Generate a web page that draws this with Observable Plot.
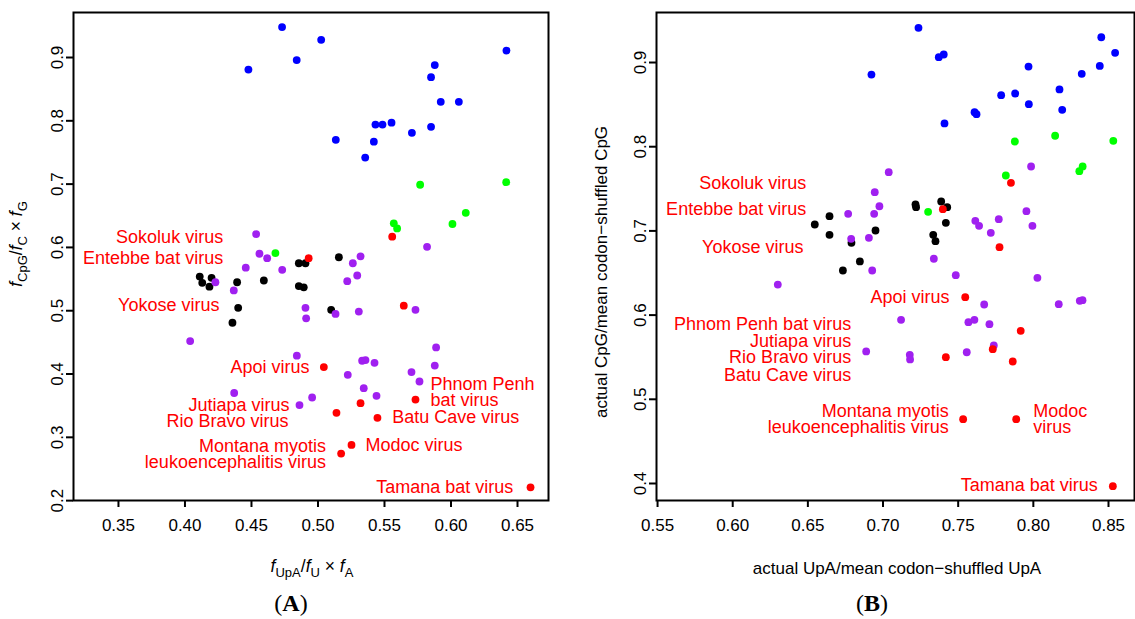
<!DOCTYPE html>
<html><head><meta charset="utf-8">
<script src="https://cdn.jsdelivr.net/npm/d3@7"></script>
<script src="https://cdn.jsdelivr.net/npm/@observablehq/plot@0.6"></script>
<style>
body{margin:0;background:#fff;}
#wrap{position:relative;width:1135px;height:619px;overflow:hidden;background:#fff;}
#wrap svg{position:absolute;top:0;}
</style></head><body><div id="wrap"></div>
<script>
// ---------- Panel A data ----------
const aBlueX = [0.4477,0.473,0.484,0.5024,0.6417,0.5878,0.585,0.5923,0.6059,0.5432,0.5485,0.5553,0.5134,0.542,0.5355,0.5706,0.585];
const aBlueY = [0.881,0.948,0.896,0.928,0.911,0.888,0.869,0.830,0.830,0.794,0.794,0.797,0.770,0.767,0.742,0.781,0.7905];
const aGreenX = [0.468,0.5768,0.6415,0.6111,0.6011,0.557,0.5595];
const aGreenY = [0.591,0.699,0.703,0.6547,0.637,0.638,0.630];
const aBlackX = [0.4111,0.413,0.420,0.4184,0.4392,0.4593,0.4856,0.4906,0.4856,0.4893,0.44,0.4357,0.5157,0.5099];
const aBlackY = [0.554,0.544,0.552,0.538,0.545,0.5477,0.575,0.575,0.539,0.537,0.5046,0.481,0.5845,0.5014];
const aPurpleX = [0.4535,0.456,0.4618,0.582,0.532,0.4229,0.4457,0.4367,0.4731,0.4906,0.4911,0.4039,0.4841,0.437,0.4861,0.5262,0.5295,0.522,0.5132,0.5307,0.5733,0.5888,0.5878,0.5332,0.5357,0.5425,0.5224,0.5703,0.5763,0.5344,0.544,0.4956];
const aPurpleY = [0.621,0.590,0.583,0.601,0.586,0.545,0.568,0.532,0.5646,0.5046,0.488,0.452,0.429,0.370,0.351,0.575,0.5556,0.5467,0.495,0.4987,0.5014,0.442,0.4134,0.421,0.422,0.4177,0.3987,0.403,0.3882,0.3776,0.3656,0.3629];
const aRedX = [0.493,0.5558,0.5645,0.5044,0.5733,0.532,0.5139,0.5447,0.5252,0.5174,0.6598];
const aRedY = [0.583,0.617,0.508,0.411,0.3597,0.354,0.3387,0.3308,0.288,0.2744,0.221];
const aLabelText = ["Sokoluk virus","Entebbe bat virus","Yokose virus","Apoi virus","Jutiapa virus","Rio Bravo virus","Montana myotis\nleukoencephalitis virus","Modoc virus","Phnom Penh\nbat virus","Batu Cave virus","Tamana bat virus"];
const aLabelX = [0.4287,0.4287,0.4259,0.4936,0.4786,0.4778,0.506,0.5357,0.5846,0.5558,0.6468];
const aLabelY = [0.6156,0.5825,0.5082,0.4103,0.3491,0.3239,0.2725,0.2859,0.3705,0.3302,0.2202];
const aLabelSide = ["end","end","end","end","end","end","end","start","start","start","end"];
const aXTicks = [0.35,0.40,0.45,0.50,0.55,0.60,0.65];
const aYTicks = [0.2,0.3,0.4,0.5,0.6,0.7,0.8,0.9];

// ---------- Panel B data ----------
const bBlueX = [0.6923,0.7236,0.7371,0.7404,0.8452,0.8544,0.8442,0.8322,0.7968,0.7786,0.7879,0.797,0.8174,0.8192,0.7609,0.7622,0.7409];
const bBlueY = [0.8857,0.9412,0.9063,0.9095,0.930,0.9115,0.896,0.8866,0.8952,0.8612,0.8632,0.8505,0.868,0.8438,0.841,0.8386,0.8276];
const bGreenX = [0.7877,0.8145,0.8532,0.8328,0.8306,0.7817,0.73];
const bGreenY = [0.8062,0.813,0.807,0.7765,0.7709,0.7658,0.7227];
const bBlackX = [0.6644,0.6546,0.6644,0.695,0.679,0.6846,0.6733,0.7216,0.722,0.7387,0.7427,0.7418,0.7334,0.7349];
const bBlackY = [0.7175,0.7076,0.6954,0.7005,0.6859,0.6637,0.653,0.7314,0.7282,0.7349,0.7282,0.7096,0.6954,0.6878];
const bPurpleX = [0.7038,0.6945,0.6976,0.6941,0.6768,0.6906,0.6788,0.6928,0.63,0.6888,0.7985,0.7614,0.7639,0.777,0.7717,0.7954,0.7994,0.7338,0.7484,0.8027,0.7673,0.8169,0.8309,0.8327,0.712,0.7568,0.7608,0.7708,0.7178,0.718,0.7557,0.7737];
const bPurpleY = [0.7697,0.746,0.7293,0.7203,0.7203,0.6918,0.6906,0.653,0.6363,0.5568,0.7765,0.712,0.706,0.7139,0.6977,0.7234,0.706,0.6669,0.6474,0.6443,0.6126,0.613,0.617,0.6177,0.5944,0.5916,0.5944,0.5892,0.5528,0.5473,0.5559,0.5639];
const bRedX = [0.7851,0.7398,0.7775,0.7547,0.7916,0.7418,0.773,0.7863,0.7533,0.7886,0.8529];
const bRedY = [0.7571,0.7258,0.6807,0.6213,0.5813,0.55,0.5595,0.5449,0.4764,0.4764,0.3968];
const bLabelText = ["Sokoluk virus","Entebbe bat virus","Yokose virus","Apoi virus","Phnom Penh bat virus","Jutiapa virus","Rio Bravo virus","Batu Cave virus","Montana myotis\nleukoencephalitis virus","Modoc\nvirus","Tamana bat virus"];
const bLabelX = [0.6489,0.6489,0.6471,0.7442,0.6788,0.6788,0.6788,0.6788,0.7438,0.7999,0.8429];
const bLabelY = [0.7559,0.7251,0.6799,0.6201,0.5888,0.5686,0.5488,0.5283,0.4751,0.4758,0.3968];
const bLabelSide = ["end","end","end","end","end","end","end","end","end","start","end"];
const bXTicks = [0.55,0.60,0.65,0.70,0.75,0.80,0.85];
const bYTicks = [0.4,0.5,0.6,0.7,0.8,0.9];

// ---------- helpers ----------
const FONT = "'Liberation Sans', Arial, Helvetica, sans-serif";
const COLORS = {blue:"#0000FF", green:"#00FF00", black:"#000000", purple:"#A020F0", red:"#FF0000"};
const zip = (xs, ys) => xs.map((x, i) => ({x, y: ys[i]}));
const labelRows = (t, xs, ys, side) => t.map((text, i) => ({text, x: xs[i], y: ys[i], side: side[i]}));

function panel({groups, labels, xDomain, yDomain, xTicks, yTicks, width, marginLeft, marginRight}) {
  const dotMarks = ["blue","green","black","purple","red"].map(k =>
    Plot.dot(groups[k], {x: "x", y: "y", r: 3.9, fill: COLORS[k], stroke: "none"}));
  return Plot.plot({
    width, height: 619,
    marginLeft, marginRight, marginTop: 12, marginBottom: 119,
    style: {fontFamily: FONT, fontSize: "17px", color: "#000", background: "#fff", overflow: "visible"},
    x: {domain: xDomain},
    y: {domain: yDomain},
    marks: [
      Plot.axisX({ticks: xTicks, tickFormat: d3.format(".2f"), tickSize: 7, tickPadding: 11, strokeWidth: 2, fontSize: 17, label: null}),
      Plot.axisY({ticks: yTicks, tickFormat: d3.format(".1f"), tickSize: 7, tickPadding: 4, tickRotate: -90, strokeWidth: 2, fontSize: 17, label: null}),
      ...dotMarks,
      Plot.text(labels.filter(d => d.side === "end"), {x: "x", y: "y", text: "text", textAnchor: "end", fill: "#FF0000", fontSize: 18, lineHeight: 0.88}),
      Plot.text(labels.filter(d => d.side === "start"), {x: "x", y: "y", text: "text", textAnchor: "start", fill: "#FF0000", fontSize: 18, lineHeight: 0.88}),
      Plot.frame({stroke: "#000", strokeWidth: 2})
    ]
  });
}

function mathText(svg, {x, y, rotate = 0, parts, size = 17, family = FONT}) {
  const t = d3.select(svg).append("text")
    .attr("transform", `translate(${x},${y}) rotate(${rotate})`)
    .attr("text-anchor", "middle")
    .attr("font-family", family)
    .attr("font-size", size)
    .attr("fill", "#000");
  let shift = 0;
  for (const p of parts) {
    const s = t.append("tspan").text(p.t);
    const target = p.sub ? Math.round(size * 0.3) : 0;
    if (target !== shift) { s.attr("dy", target - shift); shift = target; }
    if (p.sub) s.attr("font-size", Math.round(size * 0.72));
    if (p.it) s.attr("font-style", "italic");
    if (p.bold) s.attr("font-weight", "bold");
  }
}

const wrap = document.getElementById("wrap");

// ---------- Panel A ----------
const plotA = panel({
  groups: {blue: zip(aBlueX, aBlueY), green: zip(aGreenX, aGreenY), black: zip(aBlackX, aBlackY), purple: zip(aPurpleX, aPurpleY), red: zip(aRedX, aRedY)},
  labels: labelRows(aLabelText, aLabelX, aLabelY, aLabelSide),
  xDomain: [0.3162, 0.6733], yDomain: [0.2002, 0.9711],
  xTicks: aXTicks, yTicks: aYTicks,
  width: 567, marginLeft: 73, marginRight: 19
});
plotA.style.left = "0px";
wrap.appendChild(plotA);
mathText(plotA, {x: 22, y: 244, rotate: -90, size: 17.5, parts: [
  {t: "f", it: true}, {t: "CpG", sub: true}, {t: "/"}, {t: "f", it: true}, {t: "C", sub: true},
  {t: " \u00D7 "}, {t: "f", it: true}, {t: "G", sub: true}]});
mathText(plotA, {x: 312, y: 572, size: 17.5, parts: [
  {t: "f", it: true}, {t: "UpA", sub: true}, {t: "/"}, {t: "f", it: true}, {t: "U", sub: true},
  {t: " \u00D7 "}, {t: "f", it: true}, {t: "A", sub: true}]});
mathText(plotA, {x: 291, y: 611, size: 24, family: "'Liberation Serif', 'Times New Roman', serif",
  parts: [{t: "("}, {t: "A", bold: true}, {t: ")"}]});

// ---------- Panel B ----------
const plotB = panel({
  groups: {blue: zip(bBlueX, bBlueY), green: zip(bGreenX, bGreenY), black: zip(bBlackX, bBlackY), purple: zip(bPurpleX, bPurpleY), red: zip(bRedX, bRedY)},
  labels: labelRows(bLabelText, bLabelX, bLabelY, bLabelSide),
  xDomain: [0.5493, 0.8673], yDomain: [0.3798, 0.9594],
  xTicks: bXTicks, yTicks: bYTicks,
  width: 568, marginLeft: 89, marginRight: 1
});
plotB.style.left = "567px";
wrap.appendChild(plotB);
mathText(plotB, {x: 40, y: 272, rotate: -90, parts: [{t: "actual CpG/mean codon\u2212shuffled CpG"}]});
mathText(plotB, {x: 330, y: 574, parts: [{t: "actual UpA/mean codon\u2212shuffled UpA"}]});
mathText(plotB, {x: 305, y: 611, size: 24, family: "'Liberation Serif', 'Times New Roman', serif",
  parts: [{t: "("}, {t: "B", bold: true}, {t: ")"}]});
</script>
</body></html>
